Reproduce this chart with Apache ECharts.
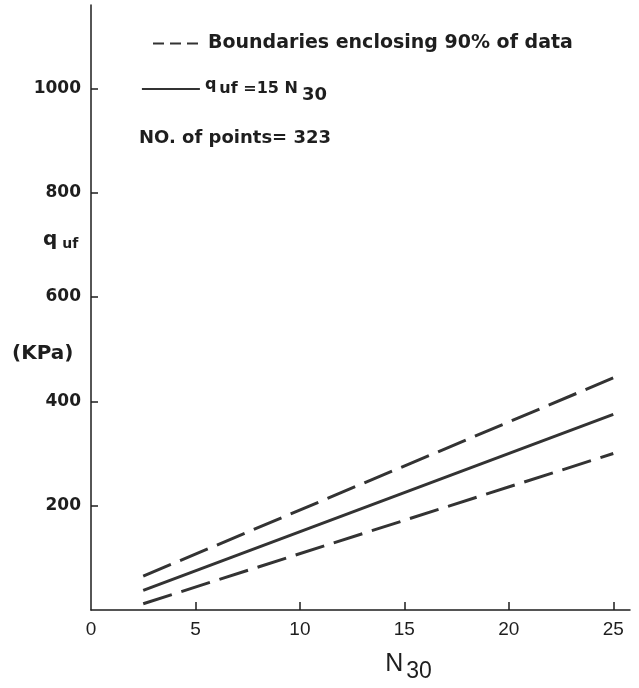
<!DOCTYPE html>
<html>
<head>
<meta charset="utf-8">
<script src="https://cdn.jsdelivr.net/npm/echarts@6/dist/echarts.min.js"></script>
<style>
  html, body { margin: 0; padding: 0; background: #fff; }
  #chart { width: 639px; height: 688px; }
</style>
</head>
<body>
<div id="chart"></div>
<script>
// N30 at the two ends of each line
var nValues = [2.5, 25];
// q_uf = 15 N30
var meanLine = [37.5, 375];
// boundaries enclosing 90% of data
var upperBound = [65, 445];
var lowerBound = [12, 300];

var xTicks = [5, 10, 15, 20, 25];
var xLabels = [0, 5, 10, 15, 20, 25];
var yTicks = [200, 400, 600, 800, 1000];

var ink = '#1e1e1e';
var lineInk = '#333';
var font = 'DejaVu Sans';
var narrow = 'Liberation Sans';

function pairs(ys) {
  return nValues.map(function (n, i) { return [n, ys[i]]; });
}

var chart = echarts.init(document.getElementById('chart'));

var dashName = 'Boundaries enclosing 90% of data';
var solidName = 'q_uf = 15 N30';

var option = {
  backgroundColor: '#fff',
  animation: false,
  grid: { left: 91, right: 9, top: 5, bottom: 78, outerBoundsMode: 'none', containLabel: false },
  title: [
    {
      text: 'NO. of points= 323',
      left: 134, top: 124,
      textStyle: { fontFamily: font, fontSize: 18, fontWeight: 'bold', color: ink }
    },
    {
      text: '{q|q}{s| uf}',
      left: 38, top: 224,
      textStyle: {
        rich: {
          q: { fontFamily: font, fontSize: 20, fontWeight: 'bold', color: ink },
          s: { fontFamily: font, fontSize: 14, fontWeight: 'bold', color: ink, padding: [8, 0, 0, 0] }
        }
      }
    },
    {
      text: '(KPa)',
      left: 7, top: 339,
      textStyle: { fontFamily: font, fontSize: 20, fontWeight: 'bold', color: ink }
    }
  ],
  legend: [
    {
      data: [{ name: dashName, lineStyle: { type: [11, 6], width: 2 }, itemStyle: { opacity: 0 } }],
      left: 147, top: 29,
      itemWidth: 50, itemHeight: 14,
      itemGap: 0,
      textStyle: { fontFamily: font, fontSize: 19, fontWeight: 'bold', color: ink, padding: [0, 0, 0, 0] }
    },
    {
      data: [{ name: solidName, lineStyle: { width: 1.8 }, itemStyle: { opacity: 0 } }],
      left: 136, top: 72,
      itemWidth: 58, itemHeight: 14,
      formatter: function () { return '{q|q}{s|uf}{t| =15 N}{n|30}'; },
      textStyle: {
        color: ink,
        rich: {
          q: { fontFamily: font, fontSize: 16, fontWeight: 'bold', color: ink, padding: [0, 3, 8, 0] },
          s: { fontFamily: font, fontSize: 16, fontWeight: 'bold', color: ink },
          t: { fontFamily: font, fontSize: 16, fontWeight: 'bold', color: ink },
          n: { fontFamily: font, fontSize: 18, fontWeight: 'bold', color: ink, padding: [12, 0, 0, 4] }
        }
      }
    }
  ],
  xAxis: {
    type: 'value',
    min: 0, max: 25.8, interval: 5,
    name: '{n|N}{s|30}',
    nameLocation: 'middle',
    nameGap: 36,
    nameTextStyle: {
      padding: [0, 0, 0, 96],
      rich: {
        n: { fontFamily: narrow, fontSize: 25, color: ink },
        s: { fontFamily: narrow, fontSize: 23, color: ink, padding: [14, 0, 0, 3] }
      }
    },
    splitLine: { show: false },
    axisLine: { lineStyle: { color: ink, width: 1.5 } },
    axisTick: { inside: true, length: 8, customValues: xTicks, lineStyle: { color: ink, width: 1.5 } },
    axisLabel: {
      customValues: xLabels, margin: 10,
      fontFamily: narrow, fontSize: 19, color: ink
    }
  },
  yAxis: {
    type: 'value',
    min: 0, max: 1160, interval: 200,
    splitLine: { show: false },
    axisLine: { lineStyle: { color: ink, width: 1.5 } },
    axisTick: { inside: true, length: 7, customValues: yTicks, lineStyle: { color: ink, width: 1.5 } },
    axisLabel: {
      customValues: yTicks, margin: 10,
      formatter: function (v) { return String(v); },
      fontFamily: font, fontSize: 17, fontWeight: 'bold', color: ink
    }
  },
  series: [
    {
      name: dashName, type: 'line', data: pairs(upperBound),
      symbol: 'none', lineStyle: { color: lineInk, width: 3, type: [30, 10] }, itemStyle: { color: lineInk }
    },
    {
      name: solidName, type: 'line', data: pairs(meanLine),
      symbol: 'none', lineStyle: { color: lineInk, width: 3 }, itemStyle: { color: lineInk }
    },
    {
      name: dashName, type: 'line', data: pairs(lowerBound),
      symbol: 'none', lineStyle: { color: lineInk, width: 3, type: [30, 10] }, itemStyle: { color: lineInk }
    }
  ]
};

chart.setOption(option);
</script>
</body>
</html>
